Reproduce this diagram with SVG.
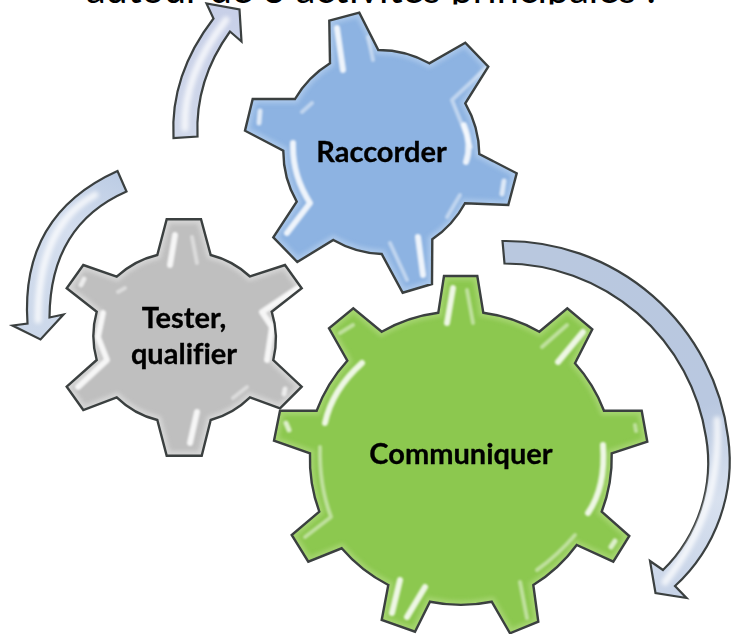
<svg xmlns="http://www.w3.org/2000/svg" width="737" height="634" viewBox="0 0 737 634">
<defs>
<style>
.gear{stroke:#3a3f3f;stroke-width:2.4;stroke-linejoin:miter;fill:none}
.hl{fill:none;stroke:#fff;stroke-width:6;stroke-linecap:round;stroke-linejoin:round;opacity:.85}
.hl2{fill:none;stroke:#fff;stroke-width:4;stroke-linecap:round;stroke-linejoin:round;opacity:.45}
.blob{fill:none;stroke:#fff;stroke-width:5;stroke-linecap:round;opacity:.7}
.arrow{stroke:#3a3f3f;stroke-width:2.2;stroke-linejoin:miter}
.streak{fill:none;stroke:#fff;stroke-width:7;stroke-linecap:round;opacity:.75}
.label{font-family:"Lato","Liberation Sans",sans-serif;font-weight:700;font-size:29px;fill:#000;text-anchor:middle;stroke:#000;stroke-width:.3;font-variant-ligatures:none}
.title{font-family:"Lato","Liberation Sans",sans-serif;font-size:39.5px;fill:#000;text-anchor:middle}
</style>
<filter id="soft" x="-5%" y="-5%" width="110%" height="110%"><feGaussianBlur stdDeviation="0.6"/></filter>
<filter id="soft2" x="-20%" y="-20%" width="140%" height="140%"><feGaussianBlur stdDeviation="1.2"/></filter>
<filter id="soft3" x="-20%" y="-20%" width="140%" height="140%"><feGaussianBlur stdDeviation="2"/></filter>
<linearGradient id="arR" gradientUnits="userSpaceOnUse" x1="560" y1="240" x2="680" y2="590"><stop offset="0" stop-color="#b9c8df"/><stop offset=".55" stop-color="#b9c8e0"/><stop offset=".8" stop-color="#d8e1ef"/><stop offset="1" stop-color="#c8d4e8"/></linearGradient>
<linearGradient id="arL" gradientUnits="userSpaceOnUse" x1="120" y1="175" x2="35" y2="335"><stop offset="0" stop-color="#bccce4"/><stop offset=".4" stop-color="#d4deee"/><stop offset="1" stop-color="#ccd8ea"/></linearGradient>
<linearGradient id="arT" gradientUnits="userSpaceOnUse" x1="185" y1="138" x2="225" y2="10"><stop offset="0" stop-color="#d0d8ea"/><stop offset="1" stop-color="#c8d0e8"/></linearGradient>
<path id="gT" d="M166.7 219.3 L201 219.3 L210.7 255 A90 90 0 0 1 250 276.5 L285 265 L301.7 288.3 L271.7 311.7 A90 90 0 0 1 273.3 360 L301.7 386.7 L280 408.3 L250 397.3 A90 90 0 0 1 210.7 420 L201.7 455.7 L166.7 455.7 L157.3 420 A90 90 0 0 1 116.7 397.3 L83.3 410 L66.7 386.7 L96.7 360 A90 90 0 0 1 96.7 311.7 L66.7 288.3 L83.3 265 L116.7 276.7 A90 90 0 0 1 157.3 255 Z"/>
<path id="gR" d="M329.3 20.7 L359.3 12.7 L378.3 50 A103 103 0 0 1 429.3 63.3 L465.3 42.7 L488.3 66.7 L465.3 103.3 A103 103 0 0 1 479.3 154 L516.7 173.3 L508.3 205 L465 203.3 A103 103 0 0 1 432.3 239.3 L432 284 L402.7 292.7 L381.7 254 A103 103 0 0 1 333.3 240 L297.3 262 L273.3 237.3 L296.7 201.7 A103 103 0 0 1 283.3 150.7 L245 130.7 L252.7 99 L295 99 A103 103 0 0 1 330 63.3 Z"/>
<path id="gC" d="M444 276 L477.3 276 L483.3 312.7 A152 152 0 0 1 539.3 331.7 L567.3 308.3 L592.3 329.3 L575 363.3 A152 152 0 0 1 604 410.7 L641.7 410.7 L647.3 441.7 L611.7 453.3 A152 152 0 0 1 601.7 511.7 L629.3 536 L613.3 561.7 L576.7 545 A152 152 0 0 1 533.3 585 L538.3 621.7 L510 633.3 L491.7 601.7 A152 152 0 0 1 430 601.7 L415 631.7 L381.7 620 L388.3 585 A152 152 0 0 1 341.7 548.3 L308.3 561.7 L291.7 535 L319.3 511.7 A152 152 0 0 1 310 453.3 L274 440.7 L280 410.7 L316.7 410.7 A152 152 0 0 1 347.3 360.7 L329 328.3 L353.3 308.3 L381.7 331.7 A152 152 0 0 1 438.3 312.7 Z"/>
<clipPath id="cTitle"><rect x="0" y="0" width="737" height="4.5"/></clipPath>
<clipPath id="cT"><use href="#gT"/></clipPath>
<clipPath id="cR"><use href="#gR"/></clipPath>
<clipPath id="cC"><use href="#gC"/></clipPath>
<clipPath id="cAT"><path d="M173.5 138 Q170 75 213.5 18.5 L206.5 3.5 L239.5 9.5 L241.5 41.5 L230 31.5 Q195 80 197.5 136.5 Z"/></clipPath>
<clipPath id="cAL"><path d="M117.5 171 L126.5 191.5 Q50 225 49.5 317.5 L63.5 314.5 L40.5 339.5 L12.5 325.5 L27.5 323.5 Q20 215 117.5 171 Z"/></clipPath>
<clipPath id="cAR"><path d="M502.5 241 L504.5 263.5 A205 205 0 0 1 706 437 A150 150 0 0 1 663 570 L650 561 L655.5 593 L686.5 598 L675 586 A170 170 0 0 0 728 437 A224 224 0 0 0 502.5 241 Z"/></clipPath>
</defs>
<rect width="737" height="634" fill="#fff"/>
<g clip-path="url(#cTitle)"><text class="title" x="371" y="3">autour de 3 activités principales :</text></g>
<g id="connectors" filter="url(#soft)">
<path class="arrow" fill="url(#arT)" d="M173.5 138 Q170 75 213.5 18.5 L206.5 3.5 L239.5 9.5 L241.5 41.5 L230 31.5 Q195 80 197.5 136.5 Z"/>
<g clip-path="url(#cAT)"><path class="streak" filter="url(#soft3)" d="M185 128 Q183 75 226 20"/></g>
<path class="arrow" fill="url(#arL)" d="M117.5 171 L126.5 191.5 Q50 225 49.5 317.5 L63.5 314.5 L40.5 339.5 L12.5 325.5 L27.5 323.5 Q20 215 117.5 171 Z"/>
<g clip-path="url(#cAL)"><path class="streak" filter="url(#soft3)" d="M95 195 Q38 225 38 320"/></g>
<path class="arrow" fill="url(#arR)" d="M502.5 241 L504.5 263.5 A205 205 0 0 1 706 437 A150 150 0 0 1 663 570 L650 561 L655.5 593 L686.5 598 L675 586 A170 170 0 0 0 728 437 A224 224 0 0 0 502.5 241 Z"/>
<g clip-path="url(#cAR)"><path class="streak" filter="url(#soft3)" d="M717 420 Q722 510 665 582"/></g>
</g>
<g id="node-tester">
<use href="#gT" fill="#bfbfbf"/>
<g clip-path="url(#cT)"><use href="#gT" fill="none" stroke="#e4e4e4" stroke-width="9" opacity=".6" filter="url(#soft3)"/></g>
<g filter="url(#soft2)">
<path class="hl" d="M175 235 L170 265"/>
<path class="hl2" d="M192 237 L197 263"/>
<path class="hl" d="M298 288 L262 312 L272 327 L267 360"/>
<path class="hl" d="M103 313 L98 337 L107 360 L78 387"/>
<path class="hl" d="M197 412 L190 443"/>
<path class="hl2" d="M125 288 L118 292"/>
<path class="hl2" d="M247 387 L233 398"/>
<path class="blob" d="M84 279 L81 285"/>
<path class="blob" d="M285 389 L284 394"/>
</g>
<use href="#gT" class="gear" filter="url(#soft)"/>
<text class="label" x="184" y="328">Tester,</text>
<text class="label" x="184" y="364">qualifier</text>
</g>
<g id="node-raccorder">
<use href="#gR" fill="#8db3e2"/>
<g clip-path="url(#cR)"><use href="#gR" fill="none" stroke="#bcd4f0" stroke-width="9" opacity=".6" filter="url(#soft3)"/></g>
<g filter="url(#soft2)">
<path class="hl" d="M337 28 L343 70"/>
<path class="hl2" d="M368 37 L373 60"/>
<path class="hl2" d="M486 68 L452 100 L471 147"/>
<path class="hl" d="M464 125 Q472 145 466 162"/>
<path class="blob" d="M260 111 L259 123"/>
<path class="hl" d="M293 143 Q292 175 310 203 L287 233"/>
<path class="blob" d="M504 181 L502 194"/>
<path class="hl2" d="M460 195 L447 217"/>
<path class="hl" d="M418 237 L423 275"/>
<path class="hl2" d="M390 243 L407 280"/>
<path class="hl2" d="M312 103 L302 112"/>
</g>
<use href="#gR" class="gear" filter="url(#soft)"/>
<text class="label" x="381.5" y="161.5">Raccorder</text>
</g>
<g id="node-communiquer">
<use href="#gC" fill="#8cc84f"/>
<g clip-path="url(#cC)"><use href="#gC" fill="none" stroke="#b5dd85" stroke-width="9" opacity=".6" filter="url(#soft3)"/></g>
<g filter="url(#soft2)">
<path class="hl" d="M453 288 L447 323"/>
<path class="hl2" d="M467 290 L473 323"/>
<path class="hl" d="M583 332 L558 362"/>
<path class="hl2" d="M567 325 L542 347"/>
<path class="hl" d="M362 363 Q332 390 325 423"/>
<path class="hl2" d="M353 325 L340 333"/>
<path class="blob" d="M286 423 L289 430"/>
<path class="hl2" d="M320 447 Q319 485 331 517 L305 537"/>
<path class="hl" d="M603 445 Q606 487 588 513"/>
<path class="hl2" d="M635 425 L636 431"/>
<path class="hl2" d="M575 535 Q558 555 537 570"/>
<path class="blob" d="M615 541 L611 547"/>
<path class="hl2" d="M520 582 L527 618"/>
<path class="hl" d="M400 580 L392 613"/>
<path class="hl" d="M425 587 L407 617"/>
</g>
<use href="#gC" class="gear" filter="url(#soft)"/>
<text class="label" x="461" y="463.5">Communiquer</text>
</g>
</svg>
